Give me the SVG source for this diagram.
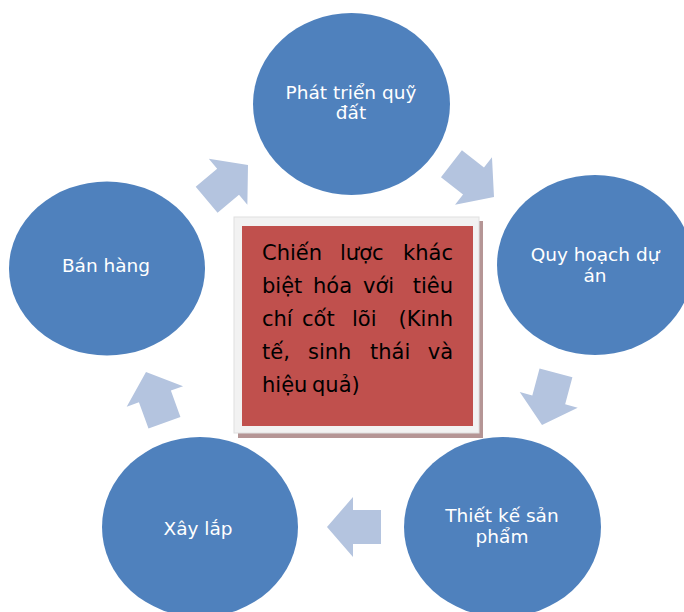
<svg xmlns="http://www.w3.org/2000/svg" width="684" height="612" viewBox="0 0 684 612">
<style>
.node{fill:#4F81BD;}
.lbl{font-family:"DejaVu Sans",sans-serif;font-size:18.5px;fill:#FFFFFF;text-anchor:middle;}
.arr{fill:#B4C4DF;}
.ctext{font-family:"DejaVu Sans",sans-serif;font-size:21px;fill:#000000;}
.e{text-anchor:end;}
</style>
<defs>
<path id="blk" d="M0,0 L-26,-30 L-26,-17 L-54,-17 L-54,17 L-26,17 L-26,30 Z"/>
</defs>
<rect width="684" height="612" fill="#FFFFFF"/>
<g id="n1"><ellipse class="node" cx="351.5" cy="104" rx="98.5" ry="91"/><text class="lbl" x="351" y="99">Phát triển quỹ</text><text class="lbl" x="351" y="119">đất</text></g>
<g id="n2"><ellipse class="node" cx="595" cy="265" rx="98" ry="90"/><text class="lbl" x="595" y="261">Quy hoạch dự</text><text class="lbl" x="595" y="282">án</text></g>
<g id="n3"><ellipse class="node" cx="502.5" cy="527" rx="98.5" ry="90"/><text class="lbl" x="502" y="522">Thiết kế sản</text><text class="lbl" x="502" y="543">phẩm</text></g>
<g id="n4"><ellipse class="node" cx="200" cy="527" rx="98" ry="90"/><text class="lbl" x="198" y="535">Xây lắp</text></g>
<g id="n5"><ellipse class="node" cx="107" cy="268.5" rx="98" ry="87"/><text class="lbl" x="106" y="272">Bán hàng</text></g>
<g id="connectors">
<use href="#blk" class="arr" transform="translate(248,165) rotate(-40)"/>
<use href="#blk" class="arr" transform="translate(494,197) rotate(38)"/>
<use href="#blk" class="arr" transform="translate(542,425) rotate(105)"/>
<use href="#blk" class="arr" transform="translate(327,527) rotate(180)"/>
<use href="#blk" class="arr" transform="translate(146,372) rotate(-110)"/>
</g>
<g id="center">
<rect x="238" y="221" width="245" height="217" fill="#B59595"/>
<rect x="234" y="217" width="245" height="216" fill="#F2F2F2" stroke="#E0E0E0" stroke-width="1"/>
<rect x="242" y="226" width="231" height="200" fill="#C0504D"/>
<text class="ctext" x="262" y="260">Chiến</text><text class="ctext" x="340" y="260">lược</text><text class="ctext e" x="453" y="260">khác</text>
<text class="ctext" x="262" y="293">biệt</text><text class="ctext" x="313" y="293">hóa</text><text class="ctext" x="363" y="293">với</text><text class="ctext e" x="453" y="293">tiêu</text>
<text class="ctext" x="262" y="326">chí</text><text class="ctext" x="302" y="326">cốt</text><text class="ctext" x="352" y="326">lõi</text><text class="ctext e" x="453" y="326">(Kinh</text>
<text class="ctext" x="262" y="359">tế,</text><text class="ctext" x="308" y="359">sinh</text><text class="ctext" x="370" y="359">thái</text><text class="ctext e" x="453" y="359">và</text>
<text class="ctext" x="262" y="392">hiệu</text><text class="ctext" x="312" y="392">quả)</text>
</g>
</svg>
